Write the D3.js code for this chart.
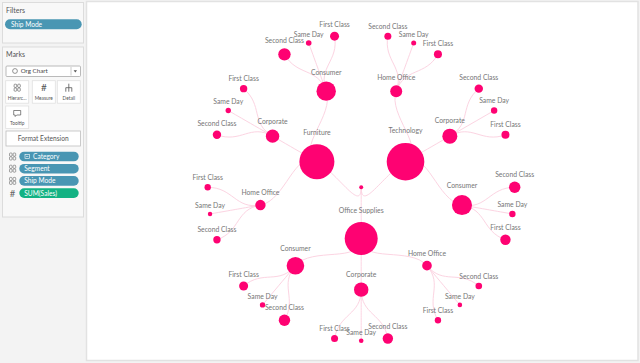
<!DOCTYPE html>
<html>
<head>
<meta charset="utf-8">
<script src="https://cdn.jsdelivr.net/npm/d3@7"></script>
<style>
  html, body { margin: 0; padding: 0; background: #f3f3f3; }
  svg { display: block; font-family: Lato, 'Liberation Sans', sans-serif; }
</style>
</head>
<body>
<div id="main"></div>
<script>
// sales in thousands
const categories = ['Technology', 'Office Supplies', 'Furniture'];
const segments = ['Home Office', 'Corporate', 'Consumer'];
const shipModes = ['Second Class', 'Same Day', 'First Class'];
const categorySales = [836, 644, 725];
const segmentSales = [
    [85, 133, 237],
    [55, 123, 183],
    [64, 106, 223]
];
const shipSales = [
    [[29, 15, 38], [42, 24, 38], [77, 24, 64]],
    [[26, 12.5, 24], [64, 12.5, 29], [77, 17, 48]],
    [[32, 11.5, 24], [42, 17, 32], [91, 18.5, 48]]
];
const marksFields = [
    {name: 'Category', kind: 'dim', minus: true},
    {name: 'Segment', kind: 'dim'},
    {name: 'Ship Mode', kind: 'dim'},
    {name: 'SUM(Sales)', kind: 'measure'}
];

const WIDTH = 640;
const HEIGHT = 363;
const PINK = '#fe0272';

const svg = d3.select('#main').append('svg').attr('width', WIDTH).attr('height', HEIGHT);

// ---- left shelf ----
const shelf = svg.append('g');
const box = (x, y, w, h) => shelf.append('rect').attr('x', x).attr('y', y).attr('width', w).attr('height', h)
    .attr('fill', '#f8f8f8').attr('stroke', '#dcdcdc').attr('stroke-width', 1);
box(2.5, 2.5, 81, 40.5);
box(2.5, 47, 81, 170);
shelf.append('text').attr('x', 6).attr('y', 12.5).text('Filters').attr('font-size', 7).attr('fill', '#555');
shelf.append('text').attr('x', 6).attr('y', 56.5).text('Marks').attr('font-size', 7).attr('fill', '#555');

const pill = (x, y, w, h, fill, label, tx) => {
    shelf.append('rect').attr('x', x).attr('y', y).attr('width', w).attr('height', h)
        .attr('rx', h / 2).attr('fill', fill);
    shelf.append('text').attr('x', tx).attr('y', y + h / 2 + 2.4).text(label)
        .attr('font-size', 6.6).attr('fill', '#fff');
};
pill(5, 19.3, 76.7, 10, '#4996b3', 'Ship Mode', 11);

// mark type dropdown
shelf.append('rect').attr('x', 6).attr('y', 66).attr('width', 74.5).attr('height', 10.5)
    .attr('fill', '#fff').attr('stroke', '#a8a8a8').attr('stroke-width', 0.8).attr('rx', 1);
shelf.append('line').attr('x1', 71).attr('x2', 71).attr('y1', 67).attr('y2', 75.5).attr('stroke', '#ccc');
shelf.append('path').attr('d', 'M73.6,70.3 L77,70.3 L75.3,72.6 Z').attr('fill', '#555');
shelf.append('circle').attr('cx', 15).attr('cy', 71).attr('r', 2.4).attr('fill', 'none').attr('stroke', '#666').attr('stroke-width', 0.7);
shelf.append('text').attr('x', 20.7).attr('y', 73.3).text('Org Chart').attr('font-size', 6.2).attr('fill', '#444');

// mark property buttons
const button = (x, y, label, icon) => {
    shelf.append('rect').attr('x', x).attr('y', y).attr('width', 23).attr('height', 22.5)
        .attr('fill', '#fff').attr('stroke', '#e0e0e0').attr('stroke-width', 0.8);
    icon(x + 11.5, y + 7);
    shelf.append('text').attr('x', x + 11.5).attr('y', y + 19).attr('text-anchor', 'middle')
        .text(label).attr('font-size', 4.8).attr('fill', '#555');
};
const dimIcon = (g, cx, cy, col) => {
    [-1.8, 1.8].forEach((dx) => [-1.9, 1.9].forEach((dy) => {
        g.append('rect').attr('x', cx + dx - 1.3).attr('y', cy + dy - 1.6).attr('width', 2.6).attr('height', 3.2)
            .attr('rx', 0.8).attr('fill', 'none').attr('stroke', col).attr('stroke-width', 0.6);
    }));
};
button(5.7, 80.7, 'Hierarc...', (cx, cy) => dimIcon(shelf, cx, cy, '#555'));
button(32.3, 80.7, 'Measure', (cx, cy) => shelf.append('text').attr('x', cx).attr('y', cy + 3.5)
    .attr('text-anchor', 'middle').text('#').attr('font-size', 10).attr('fill', '#555'));
button(57.3, 80.7, 'Detail', (cx, cy) => shelf.append('path')
    .attr('d', `M${cx},${cy - 4}V${cy} M${cx - 3},${cy + 4}V${cy}H${cx + 3}V${cy + 4} M${cx},${cy}V${cy + 4}`)
    .attr('fill', 'none').attr('stroke', '#555').attr('stroke-width', 0.8));
button(5.7, 106, 'Tooltip', (cx, cy) => shelf.append('path')
    .attr('d', `M${cx - 3.5},${cy - 2.5}H${cx + 3.5}V${cy + 2}H${cx - 0.5}L${cx - 2},${cy + 3.5}V${cy + 2}H${cx - 3.5}Z`)
    .attr('fill', 'none').attr('stroke', '#555').attr('stroke-width', 0.7));

shelf.append('rect').attr('x', 6).attr('y', 131).attr('width', 74.5).attr('height', 15)
    .attr('fill', '#fff').attr('stroke', '#bdbdbd').attr('stroke-width', 0.8);
shelf.append('text').attr('x', 43.2).attr('y', 141).attr('text-anchor', 'middle')
    .text('Format Extension').attr('font-size', 6.6).attr('fill', '#555');

marksFields.forEach((f, i) => {
    const y = 151.7 + i * 12.2;
    if (f.kind === 'dim') {
        dimIcon(shelf, 12.6, y + 4.8, '#666');
        pill(19.3, y, 59.4, 9.6, '#4996b3', f.name, f.minus ? 33 : 24.3);
        if (f.minus) {
            shelf.append('rect').attr('x', 25).attr('y', y + 2.6).attr('width', 4.3).attr('height', 4.3)
                .attr('fill', 'none').attr('stroke', '#fff').attr('stroke-width', 0.6);
            shelf.append('line').attr('x1', 26).attr('x2', 28.3).attr('y1', y + 4.75).attr('y2', y + 4.75)
                .attr('stroke', '#fff').attr('stroke-width', 0.6);
        }
    } else {
        shelf.append('text').attr('x', 12.6).attr('y', y + 8.2).attr('text-anchor', 'middle')
            .text('#').attr('font-size', 9.5).attr('fill', '#666');
        pill(19.3, y, 59.4, 9.6, '#13b283', f.name, 24.3);
    }
});

// ---- chart panel ----
svg.append('rect').attr('x', 86.5).attr('y', 1.5).attr('width', 551.5).attr('height', 359)
    .attr('fill', '#fff').attr('stroke', '#e2e2e2').attr('stroke-width', 1.5);

const treeData = {
    name: '',
    children: categories.map((c, ci) => ({
        name: c,
        value: categorySales[ci],
        children: segments.map((s, si) => ({
            name: s,
            value: segmentSales[ci][si],
            children: shipModes.map((m, mi) => ({name: m, value: shipSales[ci][si][mi]}))
        }))
    }))
};

const OUTER = 153.5;
const root = d3.hierarchy(treeData);
d3.tree().size([2 * Math.PI, OUTER]).separation((a, b) => (a.parent === b.parent ? 1 : 2))(root);

const scaleSize = d3.scaleSqrt().domain([0, d3.max(categorySales)]).range([0, 18.8]);
const radius = (d) => (d.data.value === undefined ? 2 : scaleSize(d.data.value));

const plot = svg.append('g').attr('transform', 'translate(361.2, 187.3)');

plot.append('g').selectAll('path').data(root.links()).join('path')
    .attr('d', d3.linkRadial().angle((d) => d.x).radius((d) => d.y))
    .attr('fill', 'none').attr('stroke', '#fcd4e2').attr('stroke-width', 1);

const nodes = plot.append('g').selectAll('g').data(root.descendants()).join('g')
    .attr('transform', (d) => `translate(${d3.pointRadial(d.x, d.y)})`);
nodes.append('circle').attr('r', radius).attr('fill', PINK);

plot.append('g').selectAll('text').data(root.descendants().filter((d) => d.depth > 0)).join('text')
    .attr('x', (d) => d3.pointRadial(d.x, d.y)[0])
    .attr('y', (d) => d3.pointRadial(d.x, d.y)[1] - (1.4 * radius(d) + 5))
    .attr('dy', '0.35em')
    .attr('text-anchor', 'middle')
    .attr('font-size', 6.8)
    .attr('fill', '#767676')
    .text((d) => d.data.name);
</script>
</body>
</html>
